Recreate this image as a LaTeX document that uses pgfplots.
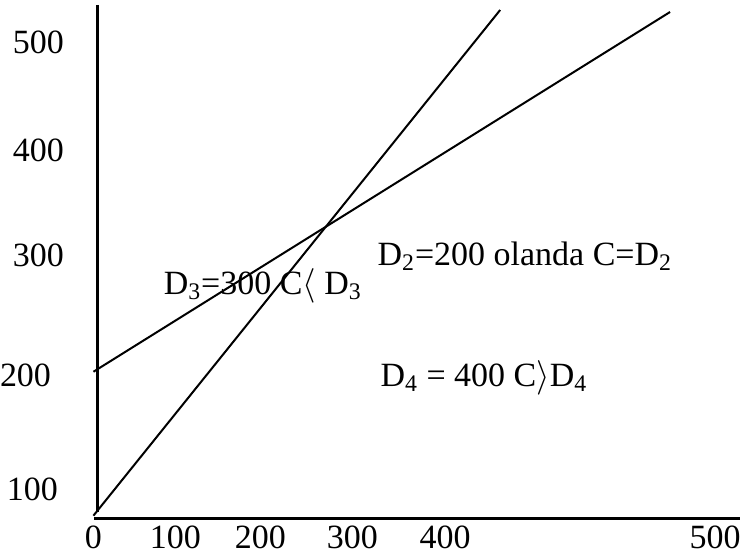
\documentclass[border=0pt]{standalone}
\usepackage{pgfplots}
\pgfplotsset{compat=1.18}
\usepackage{fontspec}
\setmainfont{Liberation Serif}
\tikzset{lbl/.style={font=\fontsize{17}{20}\selectfont, inner sep=0pt}}
\begin{document}
\begin{tikzpicture}
\begin{axis}[
  scale only axis, width=376.5pt, height=280pt,
  xmin=0, xmax=753, ymin=0, ymax=560, y dir=reverse,
  hide axis, clip=false,
]
% frame for bounding box
\addplot[draw=none] coordinates {(0,0) (753,560)};
% axes
\addplot[black, line width=1.2pt] coordinates {(97,5) (97,512)};
\addplot[black, line width=1.2pt] coordinates {(94,519) (740,519)};
% lines
\addplot[black, line width=1pt] coordinates {(93,372) (670,12)};
\addplot[black, line width=1pt] coordinates {(93,516) (500,10)};
% tick labels
\node[lbl] at (axis cs:93,538) {0};
\node[lbl] at (axis cs:175,538) {100};
\node[lbl] at (axis cs:260,538) {200};
\node[lbl] at (axis cs:352,538) {300};
\node[lbl] at (axis cs:445,538) {400};
\node[lbl] at (axis cs:715,538) {500};
\node[lbl] at (axis cs:38,42) {500};
\node[lbl] at (axis cs:38,150) {400};
\node[lbl] at (axis cs:38,256) {300};
\node[lbl] at (axis cs:25,376) {200};
\node[lbl] at (axis cs:32,490) {100};
% annotations
\node[lbl, anchor=west] at (axis cs:377,256) {D\textsubscript{2}=200 olanda C=D\textsubscript{2}};
\node[lbl, anchor=west] at (axis cs:163,286) {D\textsubscript{3}=300 C$\langle$\ D\textsubscript{3}};
\node[lbl, anchor=west] at (axis cs:380,378) {D\textsubscript{4} = 400 C$\rangle$D\textsubscript{4}};
\end{axis}
\end{tikzpicture}
\end{document}
